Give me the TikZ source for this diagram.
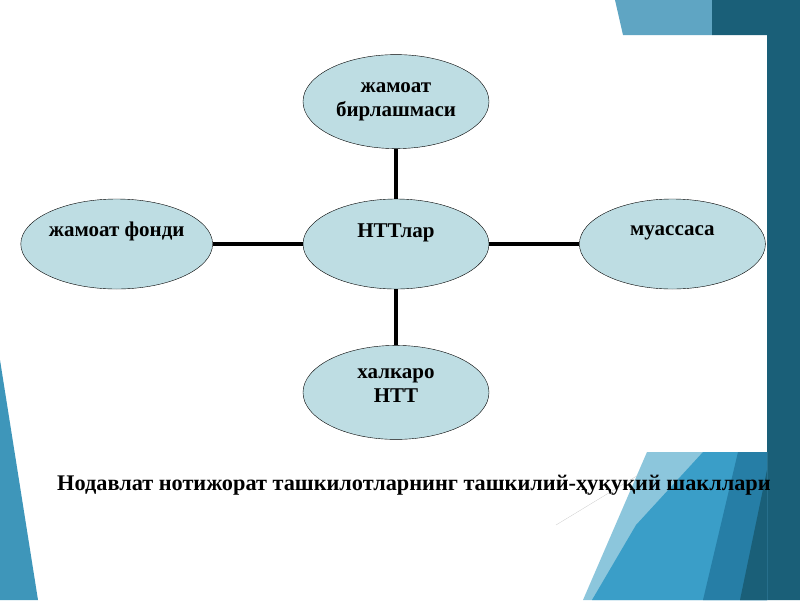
\documentclass[tikz,border=0pt]{standalone}
\usepackage{fontspec}
\setmainfont{Liberation Serif}
\usetikzlibrary{positioning, shapes.geometric}
\definecolor{ovalfill}{RGB}{190,221,227}
\definecolor{tealdark}{RGB}{26,95,120}
\definecolor{tealmid}{RGB}{38,126,166}
\definecolor{bluemid}{RGB}{58,158,200}
\definecolor{bluepale}{RGB}{140,198,220}
\definecolor{bluetop}{RGB}{95,165,195}
\definecolor{blueleft}{RGB}{62,150,186}
\tikzset{
  form/.style={
    ellipse, draw=black, thin, fill=ovalfill, align=center,
    minimum width=186pt, minimum height=90pt, inner xsep=0pt, inner ysep=0pt,
    font=\fontsize{21}{24}\selectfont\bfseries
  },
  link/.style={draw=black, line width=3.5pt},
}

\begin{document}
\begin{tikzpicture}[x=1pt, y=-1pt, node distance=50pt]
  \useasboundingbox (0,0) rectangle (800,600);
  % slide background
  \fill[white] (0,0) rectangle (800,600);
  \fill[bluetop] (615,0) -- (712,0) -- (712,35) -- (623,35) -- cycle;
  \fill[tealdark] (712,0) -- (800,0) -- (800,600) -- (767,600) -- (767,35) -- (712,35) -- cycle;
  \fill[blueleft] (0,360) -- (38,600) -- (0,600) -- cycle;
  \fill[bluepale] (647,452) -- (767,452) -- (767,600) -- (583,600) -- cycle;
  \fill[bluemid] (703,452) -- (767,452) -- (767,600) -- (592,600) -- (636,525) -- cycle;
  \fill[tealmid] (738,452) -- (767,452) -- (767,600) -- (703,600) -- cycle;
  \fill[tealdark] (767,470) -- (767,600) -- (740,600) -- cycle;
  \draw[black!25, very thin] (556,525) -- (640,474);

  % forms
  \node[form, text depth=26pt] (ntt) at (396,244) {НТТлар};
  \node[form, above=of ntt, minimum height=94pt] (union) {жамоат\\бирлашмаси};
  \node[form, below=56pt of ntt, minimum height=94pt, text depth=14pt] (intl) {халкаро\\НТТ};
  \node[form, left=90pt of ntt, text depth=30pt] (fund) {жамоат фонди};
  \node[form, right=90pt of ntt, text depth=26pt] (inst) {муассаса};

  \draw[link] (ntt) -- (union);
  \draw[link] (ntt) -- (intl);
  \draw[link] (ntt) -- (fund);
  \draw[link] (ntt) -- (inst);

  \node[anchor=base west, inner sep=0pt, font=\fontsize{22.3}{26}\selectfont\bfseries]
    (caption) at (57,490) {Нодавлат нотижорат ташкилотларнинг ташкилий-ҳуқуқий шакллари};
\end{tikzpicture}
\end{document}
